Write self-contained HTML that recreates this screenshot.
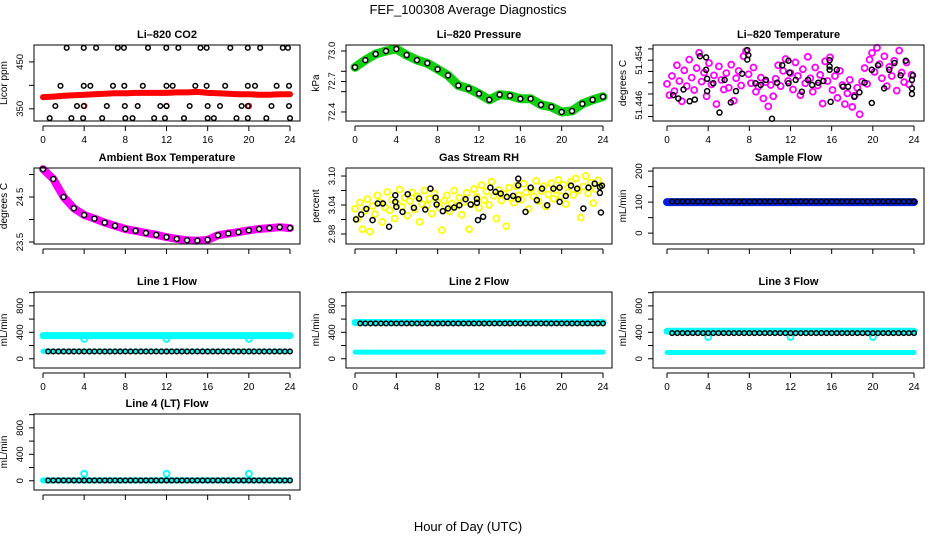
<!DOCTYPE html>
<html><head><meta charset="utf-8"><title>FEF_100308 Average Diagnostics</title>
<style>
html,body{margin:0;padding:0;background:#fff;}
svg{display:block;font-family:"Liberation Sans",Arial,sans-serif;}
</style></head>
<body>
<svg id="chart" width="936" height="540" viewBox="0 0 936 540">
<text x="468" y="14" text-anchor="middle" font-size="13">FEF_100308  Average Diagnostics</text>
<text x="468" y="531" text-anchor="middle" font-size="13">Hour of Day (UTC)</text>
</svg>
<script>
// ---------- data ----------
const xTicks = [0,4,8,12,16,20,24];
// CO2
const co2RedHourly = [375,376,378,379,380,381,382,383,383,384,384,384,384,385,385,386,384,383,382,381,381,380,380,381,381];
const co2BlackHours = [2.3,3.96,5.16,7.27,7.86,10.2,11.98,13.15,15.3,15.9,18.2,19.9,21.1,23.3,23.8,
 1.7,3.96,4.6,6.8,7.9,9.7,12,12.6,14.8,15.9,17.7,19.9,20.6,22.7,23.9,
 1.2,3.3,3.96,6.2,7.95,9.2,11.4,12,14.25,16,17.2,19.3,19.9,22.2,23.9,
 0.65,2.76,3.9,5.75,8,8.7,10.8,11.85,13.7,16,16.6,18.8,19.9,21.7,24];
const co2BlackVals = [480,480,480,480,480,480,480,480,480,480,480,480,480,480,480,
 399,399,399,399,399,399,399,399,399,399,399,399,399,399,399,
 356,356,356,356,356,356,356,356,356,356,356,356,356,356,356,
 330,330,330,330,330,330,330,330,330,330,330,330,330,330,330];
const co2RedOutlierHours = [4,12,20];
const co2RedOutlierVals = [356,356,356];
// Pressure
const pressureHourly = [72.84,72.91,72.97,73.0,73.02,72.96,72.91,72.88,72.82,72.76,72.66,72.63,72.58,72.52,72.57,72.56,72.53,72.53,72.47,72.45,72.40,72.41,72.48,72.52,72.55];
// Li-820 temperature
const tempMagenta = [51.4498,51.4478,51.4512,51.4485,51.4531,51.4503,51.4467,51.4522,51.4494,51.4541,51.4509,51.4487,51.4526,51.4553,51.4502,51.4518,51.4476,51.4535,51.4497,51.4513,51.4462,51.4529,51.4505,51.4488,51.4517,51.4491,51.4532,51.4468,51.4508,51.4521,51.4495,51.4547,51.4556,51.4515,
 51.4499,51.4527,51.4484,51.4493,51.4509,51.4472,51.4501,51.4458,51.4496,51.4476,51.4507,51.4531,51.4494,51.4521,51.4542,51.4503,51.4517,51.4488,51.4536,51.4512,51.4478,51.4524,51.4499,51.4546,51.4508,51.4484,51.4527,51.4495,51.4514,51.4463,51.4538,51.4503,51.4545,
 51.4487,51.4512,51.4473,51.4521,51.4496,51.4462,51.4481,51.4505,51.4457,51.4477,51.4491,51.4444,51.4502,51.4526,51.4498,51.4541,51.4553,51.4519,51.4562,51.4533,51.4508,51.4547,51.4494,51.4528,51.4512,51.4539,51.4486,51.4557,51.4518,51.4501,51.4536,51.4497,51.4514];
const tempBlackHours = [0.6,1.1,1.6,2.2,2.7,3.2,3.8,3.8,3.9,3.9,4.5,5.1,5.6,6.2,6.7,7.3,7.8,7.9,7.8,8.6,9.1,9.6,10.2,10.7,11.2,11.8,11.9,11.8,12.5,13.1,13.7,14.1,14.7,15.2,15.8,15.8,15.8,15.9,16.5,17.1,17.6,18.2,18.7,19.2,19.9,19.9,20.5,21.1,21.6,22.1,22.7,23.2,23.8,23.8,23.8,23.9];
const tempBlackVals = [51.4478,51.4472,51.4488,51.4467,51.447,51.4547,51.4545,51.4523,51.4507,51.4485,51.4499,51.4447,51.4505,51.4465,51.4485,51.4516,51.4558,51.4549,51.4541,51.4499,51.4496,51.4505,51.4436,51.45,51.4531,51.4539,51.4518,51.4499,51.4505,51.4484,51.4505,51.4496,51.45,51.4503,51.454,51.4529,51.4523,51.4466,51.4523,51.4493,51.4493,51.4475,51.4483,51.45,51.4523,51.4464,51.4531,51.449,51.4523,51.4535,51.4513,51.4539,51.4505,51.449,51.448,51.4513];
// Ambient box temperature
const ambientHourly = [25.12,24.9,24.5,24.25,24.1,24.02,23.93,23.86,23.79,23.75,23.70,23.66,23.61,23.57,23.54,23.53,23.55,23.65,23.69,23.72,23.76,23.79,23.81,23.83,23.81];
// Gas stream RH
const rhYellow = [3.032,3.011,3.045,2.990,3.028,3.052,2.985,3.038,3.021,3.060,3.046,3.005,3.035,3.067,3.029,3.051,3.012,3.043,3.072,3.036,3.055,3.018,3.048,3.066,3.031,3.058,3.005,3.042,3.070,3.039,3.053,3.022,3.064,3.047,
 3.035,2.988,3.049,3.060,3.027,3.043,3.070,3.038,3.055,3.020,3.046,3.065,2.990,3.041,3.073,3.057,3.034,3.081,3.050,3.068,3.040,3.088,3.059,3.012,3.071,3.049,3.063,2.996,3.076,3.054,3.045,3.079,3.060,
 3.051,3.084,3.066,3.032,3.074,3.058,3.090,3.048,3.069,3.079,3.037,3.062,3.085,3.053,3.071,3.092,3.058,3.082,3.042,3.067,3.088,3.061,3.095,3.070,3.014,3.078,3.100,3.064,3.086,3.044,3.073,3.091,3.080];
const rhBlackHours = [0.1,0.6,1.1,1.7,2.2,2.7,3.3,3.9,3.9,4.0,4.6,5.1,5.7,6.2,6.8,7.3,7.8,7.9,8.5,9.0,9.6,10.1,10.7,11.2,11.8,11.8,11.9,12.4,13.1,13.6,14.1,14.7,15.3,15.8,15.8,15.8,16.5,17.0,17.6,18.1,18.6,19.2,19.8,19.8,20.4,20.9,21.5,22.1,22.6,23.2,23.7,23.7,23.8,23.9];
const rhBlackVals = [3.0102,3.0204,3.0321,3.0088,3.0431,3.0431,2.995,3.0602,3.0465,3.0362,3.0259,3.0623,3.0342,3.0534,3.0307,3.0739,3.0554,3.041,3.0273,3.0328,3.0348,3.0396,3.052,3.041,3.0527,3.0444,3.0088,3.0156,3.076,3.0671,3.0636,3.0568,3.0588,3.0945,3.0808,3.052,3.0259,3.076,3.05,3.0739,3.0396,3.0739,3.0465,3.076,3.0588,3.0801,3.0739,3.0328,3.076,3.0842,3.065,3.0774,3.0245,3.0801];
// Flow levels (mL/min)
const sampleBlue = 100, sampleBlack = 102;
const line1Cyan = 350, line1Low = 112, line1Black = 110;
const line2Cyan = 548, line2Black = 535, line2Low = 100;
const line3Cyan = 415, line3Black = 388, line3Low = 95;
const line4Cyan = 5, line4Black = 5;
const outlierHours = [4,12,20];
const line1Outliers = [300,300,300];
const line3Outliers = [330,330,330];
const line4Outliers = [105,105,105];
const blackHalfHours = [0.5,1,1.5,2,2.5,3,3.5,4,4.5,5,5.5,6,6.5,7,7.5,8,8.5,9,9.5,10,10.5,11,11.5,12,12.5,13,13.5,14,14.5,15,15.5,16,16.5,17,17.5,18,18.5,19,19.5,20,20.5,21,21.5,22,22.5,23,23.5,24];
const hours = [0,1,2,3,4,5,6,7,8,9,10,11,12,13,14,15,16,17,18,19,20,21,22,23,24];

// ---------- layout ----------
const NS = "http://www.w3.org/2000/svg";
const svg = document.getElementById('chart');
const cols = [{l:34,r:300,x0:43,x24:290},{l:346,r:612,x0:355,x24:603},{l:653,r:924,x0:667,x24:914}];
const rowTops = [45,168,292,414];
const H = 76;
function mk(tag, attrs, parent){const e=document.createElementNS(NS,tag);for(const k in attrs)e.setAttribute(k,attrs[k]);(parent||svg).appendChild(e);return e;}

function panel(key, c, r, title, ylab, dom, yt, ylabels, xlabels){
  const C = cols[c], top = rowTops[r], bot = top + H;
  const g = mk('g', {});
  
  
  const X = h => C.x0 + (C.x24 - C.x0) * h / 24;
  const Y = v => bot - (v - dom[0]) / (dom[1] - dom[0]) * H;
  const t = mk('text', {x:(C.l+C.r)/2, y:top-7, 'text-anchor':'middle', 'font-size':11, 'font-weight':'bold'}, g);
  t.textContent = title;
  
  
  const plot = mk('g', {}, g);
  
  
  const box = mk('rect', {x:C.l, y:top, width:C.r-C.l, height:H, fill:'none', stroke:'#000', 'stroke-width':1}, g);
  
  
  const xa = mk('g', {}, g);
  
  
  mk('line', {x1:X(0), x2:X(24), y1:bot+5, y2:bot+5, stroke:'#000'}, xa);
  xTicks.forEach(v => {
    mk('line', {x1:X(v), x2:X(v), y1:bot+5, y2:bot+10, stroke:'#000'}, xa);
    if (xlabels) {
      const tl = mk('text', {x:X(v), y:bot+22, 'text-anchor':'middle', 'font-size':10}, xa);
      tl.textContent = v;
      
      
    }
  });
  const ya = mk('g', {}, g);
  
  
  mk('line', {x1:C.l, x2:C.l, y1:Y(yt[0]), y2:Y(yt[yt.length-1]), stroke:'#000'}, ya);
  yt.forEach((v,i) => {
    mk('line', {x1:C.l-5, x2:C.l, y1:Y(v), y2:Y(v), stroke:'#000'}, ya);
    if (ylabels[i]) {
      const tx = C.l-11, ty = Y(v);
      const tl = mk('text', {x:tx, y:ty, 'text-anchor':'middle', 'font-size':9.5, transform:`rotate(-90 ${tx} ${ty})`}, ya);
      tl.textContent = ylabels[i];
      
      
    }
  });
  const lx = C.l-27, ly = (top+bot)/2;
  const yl = mk('text', {x:lx, y:ly, 'text-anchor':'middle', 'font-size':10, transform:`rotate(-90 ${lx} ${ly})`}, g);
  yl.textContent = ylab;
  
  
  return {X, Y, plot};
}
function band(p, hs, vs, color, w, name){
  const pts = hs.map((h,i)=>p.X(h).toFixed(1)+','+p.Y(vs[i]).toFixed(1)).join(' ');
  const pl = mk('polyline', {points:pts, fill:'none', stroke:color, 'stroke-width':w, 'stroke-linejoin':'round', 'stroke-linecap':'round'}, p.plot);
  
  
}
function pts(p, hs, vs, color, r, sw, name, fillc){
  hs.forEach((h,i)=>{
    const c = mk('circle', {cx:p.X(h), cy:p.Y(vs[i]), r:r, fill:fillc||'none', stroke:color, 'stroke-width':sw}, p.plot);
    
    
  });
}
const idxHours = arr => arr.map((_,i)=>i*0.24);
const fill = (n,v) => Array(n).fill(v);

let p = panel('co2', 0, 0, 'Li\u2013820 CO2', 'Licor ppm', [324,486], [350,400,450], ['350','','450'], true);
band(p, hours, co2RedHourly, '#f00', 6, 'co2-red-series');
pts(p, co2RedOutlierHours, co2RedOutlierVals, '#f00', 2.5, 1.5, 'co2-red-point');
pts(p, co2BlackHours, co2BlackVals, '#000', 2.3, 1.5, 'co2-black-point');
p = panel('pressure', 1, 0, 'Li\u2013820 Pressure', 'kPa', [72.311,73.059], [72.4,72.6,72.7,72.8,73.0], ['72.4','','72.7','','73.0'], true);
band(p, hours, pressureHourly, '#10d010', 9, 'pressure-green-series');
pts(p, hours, pressureHourly, '#000', 2.5, 1.5, 'pressure-black-point', '#fff');
p = panel('li820-temp', 2, 0, 'Li\u2013820 Temperature', 'degrees C', [51.4432,51.4567], [51.444,51.446,51.448,51.45,51.452,51.454,51.456], ['','51.446','','','','51.454',''], true);
pts(p, idxHours(tempMagenta), tempMagenta, '#f0f', 3, 1.8, 'temp-magenta-point');
pts(p, tempBlackHours, tempBlackVals, '#000', 2.5, 1.5, 'temp-black-point');
p = panel('ambient', 0, 1, 'Ambient Box Temperature', 'degrees C', [23.456,25.144], [23.5,24,24.5,25], ['23.5','','24.5',''], false);
band(p, hours, ambientHourly, '#f0f', 8, 'ambient-magenta-series');
pts(p, hours, ambientHourly, '#000', 2.5, 1.5, 'ambient-black-point', '#fff');
p = panel('rh', 1, 1, 'Gas Stream RH', 'percent', [2.9593,3.1166], [2.98,3.01,3.04,3.07,3.10], ['2.98','','3.04','','3.10'], false);
pts(p, idxHours(rhYellow), rhYellow, '#ff0', 3, 1.8, 'rh-yellow-point');
pts(p, rhBlackHours, rhBlackVals, '#000', 2.5, 1.5, 'rh-black-point');
p = panel('sample-flow', 2, 1, 'Sample Flow', 'mL/min', [-35,210], [0,50,100,150,200], ['0','','100','','200'], false);
band(p, [0,24], fill(2,sampleBlue), '#0020e0', 8, 'sample-blue-series');
pts(p, blackHalfHours, fill(blackHalfHours.length, sampleBlack), '#000', 2.3, 1.5, 'sample-black-point');
const fdom = [-140,1010], fticks = [0,200,400,600,800,1000], flabs = ['0','','400','','800',''];
p = panel('line1-flow', 0, 2, 'Line 1 Flow', 'mL/min', fdom, fticks, flabs, true);
band(p, [0,24], fill(2,line1Cyan), '#0ff', 7, 'line1-cyan-series');
band(p, [0,24], fill(2,line1Low), '#0ff', 5, 'line1-cyan-low-series');
pts(p, outlierHours, line1Outliers, '#0ff', 3, 1.8, 'line1-cyan-outlier');
pts(p, blackHalfHours, fill(blackHalfHours.length, line1Black), '#000', 2.3, 1.5, 'line1-black-point');
p = panel('line2-flow', 1, 2, 'Line 2 Flow', 'mL/min', fdom, fticks, flabs, true);
band(p, [0,24], fill(2,line2Cyan), '#0ff', 7, 'line2-cyan-series');
band(p, [0,24], fill(2,line2Low), '#0ff', 5, 'line2-cyan-low-series');
pts(p, blackHalfHours, fill(blackHalfHours.length, line2Black), '#000', 2.3, 1.5, 'line2-black-point');
p = panel('line3-flow', 2, 2, 'Line 3 Flow', 'mL/min', fdom, fticks, flabs, true);
band(p, [0,24], fill(2,line3Cyan), '#0ff', 7, 'line3-cyan-series');
band(p, [0,24], fill(2,line3Low), '#0ff', 5, 'line3-cyan-low-series');
pts(p, outlierHours, line3Outliers, '#0ff', 3, 1.8, 'line3-cyan-outlier');
pts(p, blackHalfHours, fill(blackHalfHours.length, line3Black), '#000', 2.3, 1.5, 'line3-black-point');
p = panel('line4-flow', 0, 3, 'Line 4 (LT) Flow', 'mL/min', fdom, fticks, flabs, false);
band(p, [0,24], fill(2,line4Cyan), '#0ff', 6, 'line4-cyan-series');
pts(p, outlierHours, line4Outliers, '#0ff', 3, 1.8, 'line4-cyan-outlier');
pts(p, blackHalfHours, fill(blackHalfHours.length, line4Black), '#000', 2.3, 1.5, 'line4-black-point');
</script>
</body></html>
